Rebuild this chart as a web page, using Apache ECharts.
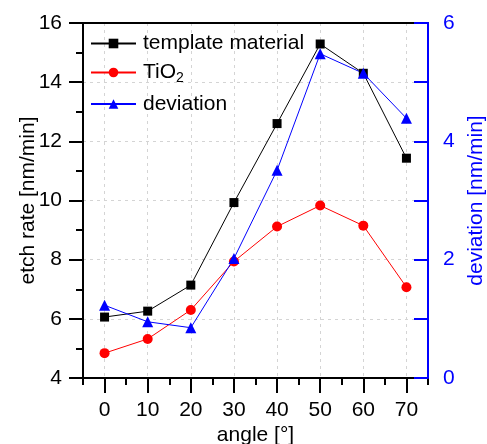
<!DOCTYPE html>
<html>
<head>
<meta charset="utf-8">
<script src="https://cdn.jsdelivr.net/npm/echarts@6/dist/echarts.min.js"></script>
<style>
html,body{margin:0;padding:0;background:#fff;}
#chart{width:487px;height:444px;}
</style>
</head>
<body>
<div id="chart"></div>
<script>
// 数据
var angles=[0,10,20,30,40,50,60,70];
var templateRate=[6.06,6.26,7.14,9.93,12.60,15.29,14.30,11.43];
var tio2Rate=[4.84,5.32,6.30,7.94,9.12,9.83,9.15,7.07];
var deviation=[1.23,0.95,0.85,2.02,3.51,5.48,5.15,4.39];
var xTicks=[0,10,20,30,40,50,60,70];
var rightLabels=[0,2,4,6];
var seriesNames=['template material','TiO2','deviation'];

var FONT='Liberation Sans';
var BLUE='#0000ff';

function pairs(xs,ys){
    var out=[];
    for(var i=0;i<xs.length;i++){
        out.push([xs[i],ys[i]]);
    }
    return out;
}

var chart=echarts.init(document.getElementById('chart'));
var option={
    animation:false,
    textStyle:{fontFamily:FONT},
    grid:{left:83,right:59,top:23,bottom:66,outerBoundsMode:'none',containLabel:false},
    legend:{
        orient:'vertical',
        left:90,
        top:33,
        padding:0,
        itemWidth:45,
        itemHeight:12,
        itemGap:8,
        data:seriesNames,
        textStyle:{
            fontFamily:FONT,fontSize:21,color:'#000',padding:[0,0,0,2],
            rich:{sub:{fontFamily:FONT,fontSize:14,color:'#000',padding:[12,0,0,0]}}
        },
        formatter:function(name){
            if(name=='TiO2') return 'TiO{sub|2}';
            return name;
        }
    },
    xAxis:[{
        // 短刻度
        type:'value',min:-5,max:75,interval:5,position:'bottom',
        axisLine:{show:true,onZero:false,lineStyle:{color:'#000',width:2}},
        axisTick:{show:true,inside:false,length:7,lineStyle:{color:'#000',width:2}},
        axisLabel:{show:false},
        splitLine:{show:false}
    },{
        // 长刻度 + 标签
        type:'value',min:-5,max:75,position:'bottom',
        axisLine:{show:false,onZero:false},
        axisTick:{show:true,inside:false,length:15,customValues:xTicks,lineStyle:{color:'#000',width:2}},
        axisLabel:{show:true,customValues:xTicks,margin:22,fontSize:21,color:'#000',fontFamily:FONT},
        splitLine:{show:true,lineStyle:{color:'#d4d4d4',type:[3,4],width:1}},
        name:'angle [°]',nameLocation:'middle',nameGap:47,nameMoveOverlap:false,
        nameTextStyle:{fontSize:21,color:'#000',fontFamily:FONT}
    },{
        // 顶部边框
        type:'value',min:-5,max:75,position:'top',
        axisLine:{show:true,onZero:false,lineStyle:{color:'#000',width:2}},
        axisTick:{show:false},axisLabel:{show:false},splitLine:{show:false}
    }],
    yAxis:[{
        type:'value',min:4,max:16,interval:2,position:'left',
        axisLine:{show:true,onZero:false,lineStyle:{color:'#000',width:2}},
        axisTick:{show:true,inside:false,length:14,lineStyle:{color:'#000',width:2}},
        minorTick:{show:true,splitNumber:2,length:7,lineStyle:{color:'#000',width:2}},
        axisLabel:{margin:21,fontSize:21,color:'#000',fontFamily:FONT},
        splitLine:{show:true,lineStyle:{color:'#d4d4d4',type:[3,4],width:1}},
        name:'etch rate [nm/min]',nameLocation:'middle',nameGap:44,nameRotate:90,nameMoveOverlap:false,
        nameTextStyle:{fontSize:21,color:'#000',fontFamily:FONT}
    },{
        type:'value',min:0,max:6,interval:1,position:'right',z:3,
        axisLine:{show:true,onZero:false,lineStyle:{color:BLUE,width:2}},
        axisTick:{show:true,inside:true,length:14,lineStyle:{color:BLUE,width:2}},
        axisLabel:{margin:15,fontSize:21,color:BLUE,fontFamily:FONT,
            formatter:function(v){return rightLabels.indexOf(v)>=0?String(v):'';}},
        splitLine:{show:false},
        name:'deviation [nm/min]',nameLocation:'middle',nameGap:38,nameRotate:90,nameMoveOverlap:false,
        nameTextStyle:{fontSize:21,color:BLUE,fontFamily:FONT}
    }],
    series:[{
        name:seriesNames[0],type:'line',xAxisIndex:0,yAxisIndex:0,
        data:pairs(angles,templateRate),
        symbol:'rect',symbolSize:9,
        itemStyle:{color:'#000'},lineStyle:{color:'#000',width:1}
    },{
        name:seriesNames[1],type:'line',xAxisIndex:0,yAxisIndex:0,
        data:pairs(angles,tio2Rate),
        symbol:'circle',symbolSize:10,
        itemStyle:{color:'#ff0000'},lineStyle:{color:'#ff0000',width:1}
    },{
        name:seriesNames[2],type:'line',xAxisIndex:0,yAxisIndex:1,
        data:pairs(angles,deviation),
        symbol:'triangle',symbolSize:11,
        itemStyle:{color:BLUE},lineStyle:{color:BLUE,width:1}
    }]
};
chart.setOption(option);
</script>
</body>
</html>
